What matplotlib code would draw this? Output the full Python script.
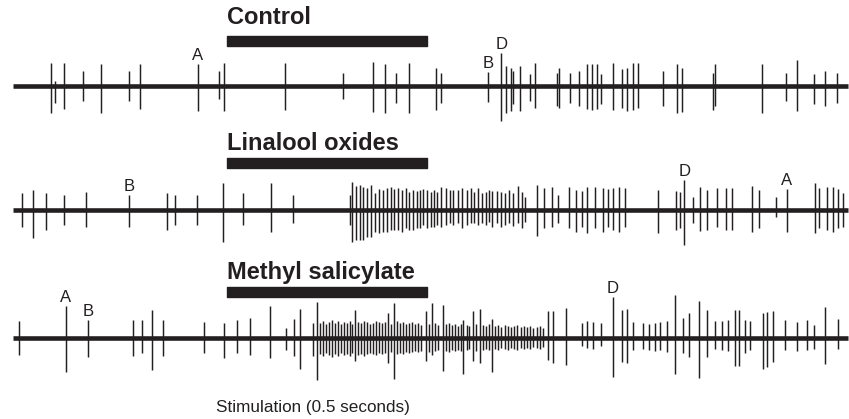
import numpy as np
import matplotlib.pyplot as plt

plt.rcParams['font.family'] = ['Liberation Sans', 'DejaVu Sans']

INK = '#231f20'
STIM_START = 534    # ms
STIM_LEN = 500      # ms
TRACE_END = 2087    # ms

# Spike times (ms) and peak size above / below baseline (a.u.)
control_t = [94, 105, 127.5, 174, 219, 291, 317.5, 462.5, 516, 527.5, 681, 826, 899, 930, 957.5, 990,
             1057.5, 1069, 1188, 1221, 1232.5, 1244, 1251, 1267.5, 1292.5, 1305, 1361, 1366, 1392.5,
             1416, 1436, 1447, 1459, 1469, 1499, 1522, 1536, 1549, 1563, 1626, 1659, 1672, 1751, 1755,
             1872, 1932.5, 1961, 2002.5, 2030, 2059]
control_up = [23, 5, 23, 15, 22, 15, 22, 22, 15, 23, 23, 13, 24, 22, 13, 23,
              18, 13, 14, 33, 20, 18, 15, 20, 12, 23, 13, 18, 13, 15, 22, 22, 22, 12, 23, 17,
              18, 23, 23, 15, 22, 18, 13, 22, 22, 13, 26, 12, 15, 13]
control_down = [27, 17, 23, 15, 27, 15, 23, 25, 13, 25, 24, 13, 26, 27, 17, 27,
                24, 17, 16, 35, 27, 25, 18, 25, 15, 22, 20, 22, 17, 20, 23, 24, 23, 18, 24, 22,
                25, 24, 22, 20, 27, 26, 24, 20, 27, 15, 25, 18, 20, 17]

linalool_t = ([22, 49, 82, 127.5, 182.5, 290, 386, 405, 459, 524, 574, 644, 701]
              + [842.5, 847.5, 857, 867.5, 876, 884, 894, 905, 916, 924, 934, 944, 953, 963, 973,
                 982, 991, 999, 1009, 1017.5, 1026, 1036, 1044, 1052.5, 1061]
              + [1070, 1082, 1092.5, 1101, 1112, 1123, 1134, 1145, 1153, 1162, 1172, 1182, 1190,
                 1198, 1210, 1220, 1230, 1240, 1251, 1263, 1273]
              + [1280, 1309, 1327.5, 1347, 1363, 1391, 1407.5, 1422, 1434, 1455, 1474, 1488, 1501,
                 1516, 1530, 1613, 1657.5, 1667.5, 1678, 1699, 1717.5, 1736, 1761, 1782.5, 1797,
                 1847, 1866, 1907.5, 1934, 2005, 2016, 2036, 2051, 2063, 2074])
linalool_up = ([17, 20, 17, 15, 18, 15, 17, 15, 15, 27, 17, 27, 15]
               + [15, 28, 24, 25, 23, 22, 25, 17, 21, 20, 22, 23, 21, 22, 20, 22, 18, 20, 19, 20,
                  21, 20, 18, 20, 18]
               + [23, 22, 20, 20, 20, 22, 20, 22, 18, 22, 17, 18, 20, 19, 19, 18, 17, 20, 17, 24, 18]
               + [13, 25, 22, 23, 15, 23, 20, 19, 23, 23, 22, 21, 22, 23, 22, 20, 19, 18, 30, 13,
                  23, 20, 22, 22, 22, 24, 20, 13, 21, 27, 22, 23, 23, 21, 17])
linalool_down = ([17, 28, 20, 15, 17, 17, 20, 15, 15, 32, 15, 22, 13]
                 + [15, 32, 30, 30, 30, 27, 27, 22, 23, 22, 22, 20, 20, 20, 22, 18, 20, 20, 18, 18,
                    15, 18, 17, 17, 15]
                 + [17, 15, 13, 15, 13, 18, 15, 13, 13, 15, 13, 15, 12, 17, 13, 17, 15, 13, 16, 13, 18]
                 + [12, 26, 18, 17, 13, 18, 22, 17, 23, 18, 22, 17, 20, 22, 17, 23, 20, 18, 35, 13,
                    21, 20, 17, 20, 20, 22, 18, 7, 22, 23, 18, 20, 22, 18, 17])

methyl_t = ([16, 132, 187.5, 301, 322, 347, 374, 477.5, 527.5, 561, 592.5, 642.5, 682.5, 702.5,
             717.5, 751, 761]
            + [855, 938, 953, 1032, 1047, 1074, 1126, 1149, 1167.5, 1197, 1338, 1349]
            + [768, 775, 783, 790, 797, 805, 812, 820, 827, 835, 842, 848, 862, 869, 877, 884, 892,
               899, 907, 914, 922, 929, 945, 961, 968, 976, 983, 991, 998, 1006, 1013, 1020, 1040,
               1055, 1062, 1083, 1090, 1098, 1105, 1112, 1119, 1134, 1141, 1157, 1176, 1183, 1190,
               1205, 1213, 1221, 1229, 1237, 1245, 1253, 1261, 1269, 1277, 1285, 1293, 1301, 1310,
               1318, 1326]
            + [1382.5, 1422, 1434, 1451, 1469, 1499, 1522, 1534, 1551, 1574, 1591, 1605, 1617.5,
               1634, 1655, 1676, 1691, 1716, 1734, 1755, 1772, 1788, 1805, 1816, 1830, 1842.5, 1874,
               1886, 1901, 1930, 1959, 1984, 2002.5, 2030, 2063])
methyl_up = ([17, 32, 18, 18, 18, 28, 18, 16, 15, 18, 20, 32, 10, 19, 29, 15, 36]
             + [28, 25, 35, 27, 35, 33, 18, 27, 29, 19, 27, 27]
             + [15, 17, 14, 16, 18, 15, 17, 14, 16, 15, 17, 14, 16, 15, 17, 16, 14, 15, 17, 16,
                15, 16, 14, 17, 15, 16, 14, 15, 16, 14, 15, 13, 14, 15, 13, 14, 15, 13, 14, 12,
                14, 13, 12, 14, 13, 12, 14, 12, 13, 11, 13, 12, 11, 12, 13, 11, 12, 11, 12, 10,
                11, 12, 10]
             + [30, 15, 17, 16, 15, 41, 28, 29, 16, 15, 14, 15, 16, 17, 43, 20, 25, 37, 28, 17,
                17, 18, 28, 28, 18, 17, 25, 26, 27, 18, 16, 18, 13, 31, 19])
methyl_down = ([17, 34, 19, 18, 15, 32, 18, 15, 20, 15, 17, 20, 12, 18, 31, 18, 42]
               + [23, 25, 41, 23, 17, 33, 36, 23, 25, 34, 22, 25]
               + [16, 18, 15, 17, 19, 16, 18, 15, 17, 16, 18, 15, 17, 16, 18, 16, 15, 16, 17, 15,
                  16, 15, 14, 16, 15, 16, 14, 15, 14, 13, 14, 13, 14, 13, 12, 13, 14, 12, 13, 12,
                  13, 12, 11, 13, 12, 11, 12, 11, 12, 10, 11, 12, 10, 11, 12, 10, 11, 10, 11, 9,
                  10, 11, 9]
               + [27, 8, 10, 11, 8, 39, 24, 25, 12, 11, 12, 13, 12, 14, 36, 15, 19, 40, 19, 11,
                  12, 13, 28, 28, 15, 12, 31, 29, 24, 12, 13, 12, 11, 26, 11])

# spike identity letters: (spike time, letter)
control_marks = [(462.5, 'A'), (1188, 'B'), (1221, 'D')]
linalool_marks = [(290, 'B'), (1678, 'D'), (1934, 'A')]
methyl_marks = [(132, 'A'), (187.5, 'B'), (1499, 'D')]

traces = [
    ('Control', control_t, control_up, control_down, control_marks, 333, 377.5, 401),
    ('Linalool oxides', linalool_t, linalool_up, linalool_down, linalool_marks, 209, 256, 275),
    ('Methyl salicylate', methyl_t, methyl_up, methyl_down, methyl_marks, 81, 127, 146),
]

fig = plt.figure(figsize=(8.49, 4.19), dpi=100)
ax = fig.add_axes([0, 0, 1, 1])
ax.set_xlim(-32.5, 2090)
ax.set_ylim(0, 419)
ax.axis('off')

for name, t, up, down, marks, base, bar_y, title_y in traces:
    t = np.array(t)
    up = np.array(up)
    down = np.array(down)
    # baseline noise band
    ax.hlines(base, 0, TRACE_END, color=INK, lw=3.3)
    # spikes
    ax.vlines(t, base - down, base + up, color=INK, lw=1.05)
    # stimulation bar
    ax.broken_barh([(STIM_START, STIM_LEN)], (bar_y - 5, 10), color=INK)
    ax.text(STIM_START + 2, title_y, name, fontsize=17, fontweight='bold',
            ha='left', va='center', color=INK)
    for mt, letter in marks:
        i = int(np.argmin(np.abs(t - mt)))
        ax.text(mt, base + up[i] + 4, letter, fontsize=12, ha='center',
                va='baseline', color=INK)

ax.text(507.5, 7, 'Stimulation (0.5 seconds)', fontsize=12.3, ha='left',
        va='baseline', color=INK)

fig.savefig('out.png', dpi=100)
